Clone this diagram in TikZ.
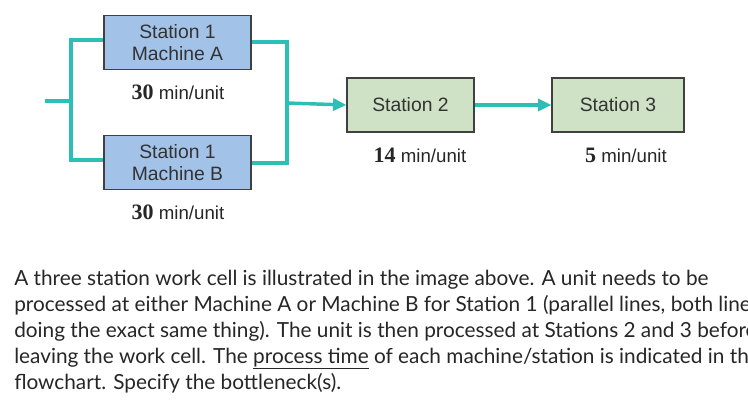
\documentclass[tikz,border=0pt]{standalone}
\usepackage{fontspec}
\setmainfont{Lato}
\newfontfamily\arialf{Liberation Sans}
\newfontfamily\timesf{Liberation Serif}
\usetikzlibrary{arrows.meta}
\definecolor{teal1}{HTML}{2BBFB5}
\definecolor{bluebox}{HTML}{A3C2E8}
\definecolor{greenbox}{HTML}{CFE2C6}
\begin{document}
\begin{tikzpicture}[x=0.75pt,y=-0.75pt,
  box/.style={draw=black!75,line width=0.9pt,minimum width=110.25pt,minimum height=40.5pt,inner sep=0pt,align=center,font=\arialf\fontsize{14.5}{16.5}\selectfont,text=black!80},
  conn/.style={draw=teal1,line width=2.6pt},
  arr/.style={conn,-{Triangle[length=10pt,width=9pt]}},
  rate/.style={font=\arialf\fontsize{14}{16}\selectfont,text=black!85},
  para/.style={anchor=base west,inner sep=0pt,font=\fontsize{15.6}{18}\selectfont,text=black!85}]
\useasboundingbox (0,0) rectangle (748,415);
\node[box,fill=bluebox] (a) at (177.5,42.5) {Station 1\\Machine A};
\node[box,fill=bluebox] (b) at (177.5,162.5) {Station 1\\Machine B};
\node[box,fill=greenbox,minimum width=95.25pt] (s2) at (410.5,105) {Station 2};
\node[box,fill=greenbox,minimum width=99pt] (s3) at (618,105) {Station 3};
\node[rate] (ra) at (178,92) {{\timesf\bfseries\fontsize{16.5}{18}\selectfont 30} min/unit};
\node[rate] (rb) at (178,212) {{\timesf\bfseries\fontsize{16.5}{18}\selectfont 30} min/unit};
\node[rate] (r2) at (420,155) {{\timesf\bfseries\fontsize{16.5}{18}\selectfont 14} min/unit};
\node[rate] (r3) at (626,155) {{\timesf\bfseries\fontsize{16.5}{18}\selectfont 5} min/unit};
\coordinate (in) at (45,101);
\coordinate (jl) at (71,101);
\coordinate (jr) at (287,103);
\draw[conn] (in) -- (jl);
\draw[conn] (a.west|-0,40) -| (jl) |- (b.west|-0,160);
\draw[conn] (a.east|-0,42) -| (jr) |- (b.east|-0,163);
\draw[arr] (jr) -- (s2.west);
\draw[arr] (s2) -- (s3);
\node[para] (p1) at (14,285) {A three station work cell is illustrated in the image above. A unit needs to be};
\node[para] (p2) at (14,311) {processed at either Machine A or Machine B for Station 1 (parallel lines, both lines};
\node[para] (p3) at (14,337) {doing the exact same thing). The unit is then processed at Stations 2 and 3 before};
\node[para] (p4) at (14,363) {leaving the work cell. The \underline{process time} of each machine/station is indicated in the};
\node[para] (p5) at (14,389) {flowchart. Specify the bottleneck(s).};
\end{tikzpicture}
\end{document}
